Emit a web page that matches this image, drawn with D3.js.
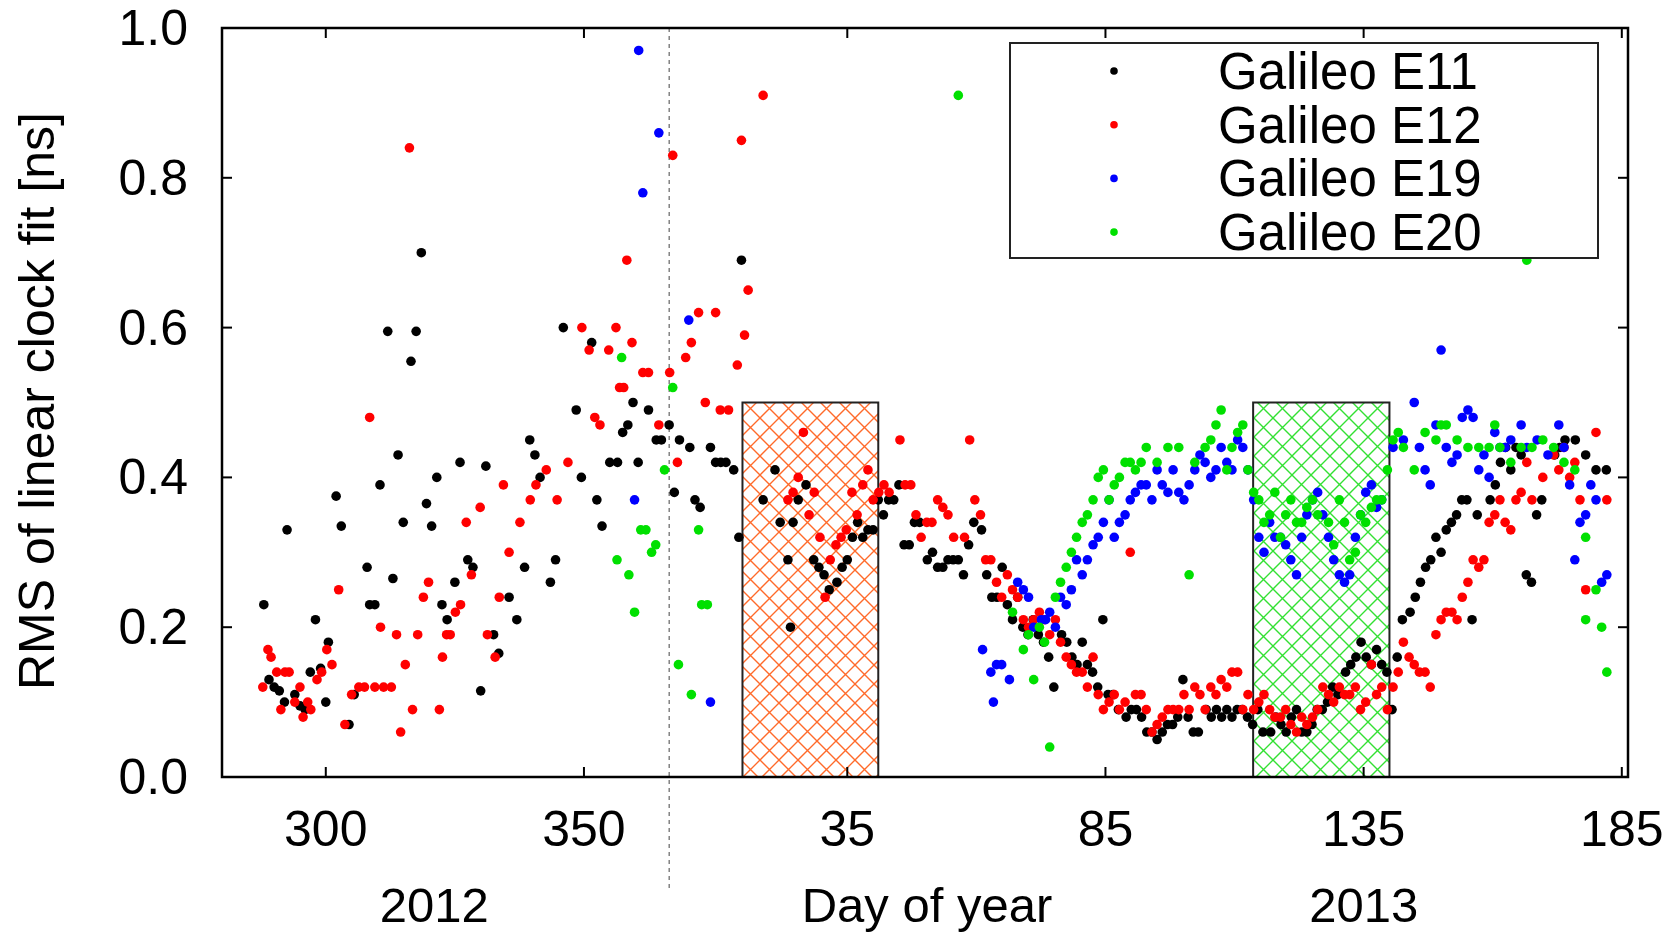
<!DOCTYPE html>
<html><head><meta charset="utf-8">
<script src="https://cdn.jsdelivr.net/npm/d3@7"></script>
<style>body{margin:0;background:#fff}svg{display:block}text{font-family:"Liberation Sans",Arial,sans-serif;fill:#000}</style>
</head><body>
<script>
// day index: 2012 day d -> d ; 2013 day d -> d+366
const e11 = [[288,.23],[289,.13],[290,.12],[291,.115],[292,.10],[292.5,.33],[294,.11],[295,.095],[296,.09],[297,.14],[298,.21],[299,.145],[300,.10],[300.5,.18],[302,.375],[303,.335],[304.5,.07],[305.5,.11],[308,.28],[308.5,.23],[309.5,.23],[310.5,.39],[312,.595],[313,.265],[314,.43],[315,.34],[316.5,.555],[317.5,.595],[318.5,.70],[319.5,.365],[320.5,.335],[321.5,.40],[322.5,.23],[323.5,.21],[325,.26],[326,.42],[327.5,.29],[328.5,.28],[330,.115],[331,.415],[332.5,.19],[333.5,.165],[335.5,.24],[337,.21],[338.5,.28],[339.5,.45],[340.5,.43],[341.5,.40],[343.5,.26],[344.5,.29],[346,.60],[348.5,.49],[349.5,.40],[351.5,.58],[352.5,.37],[353.5,.335],[355,.42],[356.5,.42],[357.5,.46],[358.5,.47],[359.5,.50],[360.5,.42],[362.5,.49],[364,.45],[365,.45],[366.5,.47],[367.5,.38],[368.5,.45],[370.5,.44],[371.5,.37],[372.5,.36],[374.5,.44],[375.5,.42],[376.5,.42],[377.5,.42],[379,.41],[380.5,.69],[380,.32],
[384.7,.37],[387,.41],[388,.34],[389.5,.29],[390,.20],[390.5,.34],[391.5,.37],[393,.39],[394.5,.29],[395.5,.28],[396.5,.27],[397.5,.25],[399,.26],[400,.28],[401,.29],[402,.32],[403,.34],[404,.32],[405,.33],[406,.33],[407,.37],[408,.35],[409,.37],[410,.37],[411,.39],[412,.31],[413,.31],[414,.34],[415,.34],[416.5,.29],[417.5,.30],[418.5,.28],[419.5,.28],[420.5,.29],[421.5,.29],[422.5,.29],[423.5,.27],[424.5,.31],[425.5,.34],[427,.33],[428,.27],[429,.24],[430,.24],[431,.28],[432,.23],[433,.21],[434,.24],[435,.20],[436,.19],[437,.21],[438,.19],[439,.18],[440,.16],[441,.12],[442.5,.19],[443.5,.18],[444.5,.16],[445.5,.15],[446.5,.18],[447.5,.15],[448.5,.14],[449.5,.12],[450.5,.21],[451.5,.11],[452.5,.11],[453.5,.09],[455,.08],[456,.09],[457,.09],[458,.08],[459,.06],[460,.06],[461,.05],[462,.06],[463,.07],[464,.07],[465,.08],[466,.13],[467,.08],[468,.06],[469,.06],[470.5,.09],[471.5,.08],[472.5,.09],[473.5,.08],[474.5,.09],[475.5,.08],[476.5,.09],[477.5,.09],[478.5,.08],[479.5,.07],[480.5,.09],[481.5,.06],[483,.06],[484,.08],[485,.07],[486,.06],[487,.08],[488,.09],[489,.06],[490,.06],[491,.07],[492,.09],[493,.09],[494,.10],[495,.12],[496,.11],[497.5,.14],[498.5,.15],[499.5,.16],[500.5,.18],[501.5,.16],[502.5,.15],[503.5,.17],[504.5,.15],[505.5,.14],[506.5,.09],[507.5,.16],[508.5,.21],[510,.22],[511,.24],[512,.26],[513,.28],[514,.29],[515,.32],[516,.30],[517,.33],[518,.34],[519,.35],[520,.37],[521,.37],[522,.21],[523,.35],[525.5,.37],[526.5,.39],[527.5,.42],[528.5,.44],[529.5,.41],[530.5,.44],[531.5,.43],[532.5,.27],[533.5,.26],[534.5,.35],[535.5,.37],[538,.43],[539,.44],[540,.45],[542,.45],[544,.43],[546,.41],[548,.41]];
const e12 = [[287.8,.12],[288.8,.17],[289.4,.16],[290.5,.14],[291.3,.09],[292.1,.14],[292.9,.14],[294,.10],[295,.12],[295.6,.08],[296.5,.10],[297.1,.09],[298.3,.13],[299.2,.14],[300.2,.17],[301.2,.15],[302.5,.25],[303.7,.07],[305,.11],[306.4,.12],[307.5,.12],[308.5,.48],[309.5,.12],[310.6,.20],[311.2,.12],[312.7,.12],[313.7,.19],[314.5,.06],[315.4,.15],[316.2,.84],[316.8,.09],[317.8,.19],[318.9,.24],[319.9,.26],[322,.09],[322.6,.16],[323.4,.19],[324.1,.19],[325.1,.22],[326.1,.23],[327.2,.34],[328.2,.27],[329.9,.36],[331.3,.19],[332.8,.16],[333.6,.24],[334.4,.39],[335.5,.30],[337.6,.34],[339.6,.37],[340.7,.39],[342.7,.41],[344.8,.37],[346.9,.42],[349.6,.60],[351,.57],[352.1,.48],[353.1,.47],[354.8,.57],[356.2,.60],[356.9,.52],[357.7,.52],[358.3,.69],[359.3,.58],[361.4,.54],[362.5,.54],[364.5,.47],[366.6,.54],[367.2,.83],[368.1,.42],[369.7,.56],[370.8,.58],[372.2,.62],[373.5,.50],[375.5,.62],[376.4,.49],[378,.49],[379.7,.55],[380.5,.85],[381.1,.59],[381.8,.65],[384.7,.91],
[389.5,.37],[390.5,.38],[391.5,.40],[392.5,.46],[393.6,.35],[394.6,.38],[395.7,.32],[396.7,.24],[397.7,.29],[398.8,.31],[399.8,.32],[400.8,.33],[401.9,.38],[402.9,.35],[404,.39],[405,.41],[406,.37],[407.1,.38],[408.1,.39],[409.1,.38],[411.2,.45],[412.2,.39],[413.3,.39],[414.3,.35],[415.3,.32],[416.4,.34],[417.4,.34],[418.5,.37],[419.5,.36],[420.5,.35],[421.6,.32],[423.7,.32],[424.7,.45],[425.7,.37],[426.8,.35],[427.8,.29],[428.8,.29],[429.9,.26],[430.9,.24],[432,.27],[433,.25],[434,.24],[435.1,.21],[436.1,.20],[437.1,.21],[438.2,.22],[439.2,.21],[440.2,.19],[441.3,.21],[442.3,.18],[443.4,.16],[444.4,.15],[445.4,.14],[446.5,.14],[447.5,.12],[448.6,.16],[449.6,.11],[450.6,.09],[451.7,.10],[452.7,.11],[453.7,.09],[454.8,.10],[455.8,.30],[456.8,.11],[457.9,.11],[458.9,.09],[460,.06],[461,.07],[462,.08],[463.1,.09],[464.1,.09],[465.2,.09],[466.2,.11],[467.2,.09],[468.3,.12],[469.3,.11],[470.3,.09],[471.4,.12],[472.4,.11],[473.4,.13],[474.5,.12],[475.5,.14],[476.6,.14],[477.6,.09],[478.6,.11],[479.7,.09],[480.7,.10],[481.7,.11],[482.8,.09],[483.8,.08],[484.9,.08],[485.9,.09],[486.9,.07],[488,.06],[489,.08],[490,.07],[491.1,.08],[492.1,.09],[493.1,.12],[494.2,.11],[495.2,.10],[496.3,.12],[497.3,.11],[498.3,.11],[499.4,.12],[500.4,.09],[501.4,.10],[502.5,.15],[503.5,.11],[504.5,.12],[505.6,.09],[506.7,.12],[507.7,.14],[508.7,.18],[509.8,.16],[510.8,.15],[511.8,.14],[512.9,.14],[513.9,.12],[515,.19],[516,.21],[517,.22],[518.1,.22],[519.1,.21],[520.1,.24],[521.2,.26],[522.2,.29],[523.3,.28],[524.3,.29],[525.3,.34],[526.4,.35],[527.4,.37],[528.4,.34],[529.5,.33],[530.5,.37],[531.5,.38],[532.6,.42],[533.6,.37],[535.7,.40],[537.8,.43],[538.8,.41],[539.8,.44],[540.9,.40],[541.9,.42],[542.9,.37],[544,.25],[546,.46],[548.1,.37]];
const e19 = [[360.6,.97],[364.5,.86],[361.4,.78],[359.8,.37],[370.3,.61],[374.5,.10],
[427.2,.17],[428.8,.14],[429.9,.15],[430.9,.15],[429.3,.10],[432.4,.13],[434,.26],[435.1,.25],[436.1,.24],[437.1,.20],[438.6,.21],[439.4,.21],[440.2,.22],[441.3,.20],[442.3,.24],[443.4,.23],[444.4,.25],[445.4,.29],[446.5,.27],[447.5,.29],[448.6,.31],[449.6,.32],[450.6,.34],[451.7,.37],[452.7,.32],[453.7,.34],[454.8,.35],[455.8,.37],[456.8,.38],[457.9,.39],[458.9,.39],[460,.37],[461,.41],[462,.39],[463.1,.38],[464.1,.41],[465.2,.38],[466.2,.37],[467.2,.39],[468.3,.41],[469.3,.43],[470.3,.42],[471.4,.40],[472.4,.41],[473.4,.44],[474.5,.42],[475.5,.41],[476.6,.45],[477.6,.44],[478.6,.41],[479.7,.37],[480.7,.32],[481.7,.30],[482.8,.34],[483.8,.32],[484.9,.32],[485.9,.31],[486.9,.29],[488,.27],[489,.32],[490,.35],[491.1,.37],[492.1,.38],[493.1,.35],[494.2,.32],[495.2,.29],[496.3,.27],[497.3,.26],[498.3,.27],[499.4,.32],[500.4,.35],[501.4,.38],[502.5,.39],[503.5,.36],[504.5,.37],[506.7,.44],[508.7,.45],[510.8,.50],[511.8,.44],[512.9,.41],[513.9,.39],[515,.47],[516,.57],[517,.44],[518.1,.42],[519.1,.43],[520.1,.48],[521.2,.49],[522.2,.48],[523.3,.41],[524.3,.43],[525.3,.40],[526.4,.46],[527.4,.44],[528.4,.44],[529.5,.45],[531.5,.47],[532.6,.44],[534.6,.45],[536.7,.43],[538.8,.47],[539.8,.44],[540.9,.39],[541.9,.29],[542.9,.34],[544,.35],[545,.39],[546,.37],[547.1,.26],[548.1,.27]];
const e20 = [[357.3,.56],[356.4,.29],[358.7,.27],[359.8,.22],[361,.33],[362,.33],[363.1,.30],[363.9,.31],[365.6,.41],[367.2,.52],[368.3,.15],[370.8,.11],[372.2,.33],[372.8,.23],[373.9,.23],[422.5,.91],
[433,.22],[435.1,.17],[437.1,.13],[436.1,.19],[438.2,.20],[439.2,.18],[440.2,.04],[441.3,.24],[442.3,.26],[443.4,.28],[444.4,.30],[445.4,.32],[446.5,.34],[447.5,.35],[448.6,.37],[449.6,.40],[450.6,.41],[451.7,.37],[452.7,.39],[453.7,.40],[454.8,.42],[455.8,.42],[456.8,.41],[457.9,.42],[458.9,.44],[461,.42],[463.1,.44],[465.2,.44],[467.2,.27],[468.3,.42],[470.3,.44],[471.4,.45],[472.4,.47],[473.4,.49],[474.5,.41],[475.5,.44],[476.6,.46],[477.6,.47],[478.6,.41],[479.7,.38],[480.7,.37],[481.7,.34],[482.8,.35],[483.8,.38],[484.9,.32],[485.9,.35],[486.9,.37],[488,.34],[489,.34],[490,.36],[491.1,.37],[492.1,.35],[494.2,.34],[495.2,.31],[496.3,.37],[497.3,.34],[498.3,.29],[499.4,.30],[500.4,.35],[501.4,.34],[502.5,.36],[503.5,.37],[504.5,.37],[505.6,.41],[506.7,.45],[507.7,.46],[508.7,.44],[510.8,.41],[512.9,.46],[515,.45],[516,.47],[517,.47],[519.1,.45],[521.2,.44],[523.3,.44],[525.3,.44],[526.4,.47],[527.4,.44],[529.5,.42],[531.5,.44],[532.6,.69],[533.6,.44],[535.7,.45],[537.8,.44],[539.8,.42],[541.9,.41],[544,.21],[546,.25],[547.1,.20],[548.1,.14],[544,.32]];
const seriesNames = ["Galileo E11","Galileo E12","Galileo E19","Galileo E20"];
const seriesColors = ["#000000","#ff0000","#0000ff","#00e000"];
const xTicks = [300,350,401,451,501,551];
const xTickLabels = ["300","350","35","85","135","185"];
const yTicks = [0,0.2,0.4,0.6,0.8,1.0];
const boxes = [{x0:380.7,x1:407,top:0.5,color:"#ff6a2a"},{x0:479.6,x1:506,top:0.5,color:"#33e033"}];
const yearBoundary = 366.5;
const yearLabels = [{t:321,text:"2012"},{t:501,text:"2013"}];

const W=1680,H=939, L=222,R=1628,T=28,B=777;
const svg=d3.select("body").append("svg").attr("width",W).attr("height",H);
const x=d3.scaleLinear().domain([279.9,552.2]).range([L,R]);
const y=d3.scaleLinear().domain([0,1]).range([B,T]);
const defs=svg.append("defs");
boxes.forEach((b,i)=>{
  const p=defs.append("pattern").attr("id","hatch"+i).attr("patternUnits","userSpaceOnUse").attr("width",19).attr("height",19);
  p.append("path").attr("d","M0,0L19,19M19,0L0,19M-1,18L1,20M18,-1L20,1M18,20L20,18M-1,1L1,-1").attr("stroke",b.color).attr("stroke-width",1.4).attr("fill","none");
});
svg.selectAll("rect.box").data(boxes).join("rect").attr("class","box")
  .attr("x",d=>x(d.x0)).attr("width",d=>x(d.x1)-x(d.x0))
  .attr("y",d=>y(d.top)).attr("height",d=>y(0)-y(d.top))
  .attr("fill",(d,i)=>`url(#hatch${i})`).attr("stroke","#222").attr("stroke-width",2);
svg.append("line").attr("x1",x(yearBoundary)).attr("x2",x(yearBoundary)).attr("y1",T).attr("y2",890)
  .attr("stroke","#444").attr("stroke-width",1).attr("stroke-dasharray","4,4");
const tl=10;
xTicks.forEach(t=>{
  svg.append("line").attr("x1",x(t)).attr("x2",x(t)).attr("y1",B).attr("y2",B-tl).attr("stroke","#000").attr("stroke-width",2);
  svg.append("line").attr("x1",x(t)).attr("x2",x(t)).attr("y1",T).attr("y2",T+tl).attr("stroke","#000").attr("stroke-width",2);
});
yTicks.forEach(v=>{
  svg.append("line").attr("x1",L).attr("x2",L+tl).attr("y1",y(v)).attr("y2",y(v)).attr("stroke","#000").attr("stroke-width",2);
  svg.append("line").attr("x1",R).attr("x2",R-tl).attr("y1",y(v)).attr("y2",y(v)).attr("stroke","#000").attr("stroke-width",2);
});
svg.selectAll("text.xt").data(xTicks).join("text").attr("class","xt").attr("x",d=>x(d)).attr("y",846)
  .attr("text-anchor","middle").attr("font-size",50).text((d,i)=>xTickLabels[i]);
svg.selectAll("text.yt").data(yTicks).join("text").attr("class","yt").attr("x",188).attr("y",d=>y(d)+17)
  .attr("text-anchor","end").attr("font-size",50).text(d=>d.toFixed(1));
svg.selectAll("text.yr").data(yearLabels).join("text").attr("x",d=>x(d.t)).attr("y",922)
  .attr("text-anchor","middle").attr("font-size",49).text(d=>d.text);
svg.append("text").attr("x",927).attr("y",922).attr("text-anchor","middle").attr("font-size",49).text("Day of year");
svg.append("text").attr("transform","translate(54,401) rotate(-90)").attr("text-anchor","middle").attr("font-size",50).text("RMS of linear clock fit [ns]");
[e11,e12,e19,e20].forEach((s,i)=>{
  svg.append("g").selectAll("circle").data(s).join("circle")
    .attr("cx",d=>x(d[0])).attr("cy",d=>y(d[1])).attr("r",4.8).attr("fill",seriesColors[i]);
});
svg.append("rect").attr("x",L).attr("y",T).attr("width",R-L).attr("height",B-T).attr("fill","none").attr("stroke","#000").attr("stroke-width",2.5);
const lg=svg.append("g");
lg.append("rect").attr("x",1010).attr("y",43).attr("width",588).attr("height",215).attr("fill","#fff").attr("stroke","#222").attr("stroke-width",2);
seriesNames.forEach((n,i)=>{
  const cy=71+i*53.7;
  lg.append("circle").attr("cx",1114).attr("cy",cy).attr("r",3.8).attr("fill",seriesColors[i]);
  lg.append("text").attr("x",1218).attr("y",cy+18).attr("font-size",51).text(n);
});
</script>
</body></html>
